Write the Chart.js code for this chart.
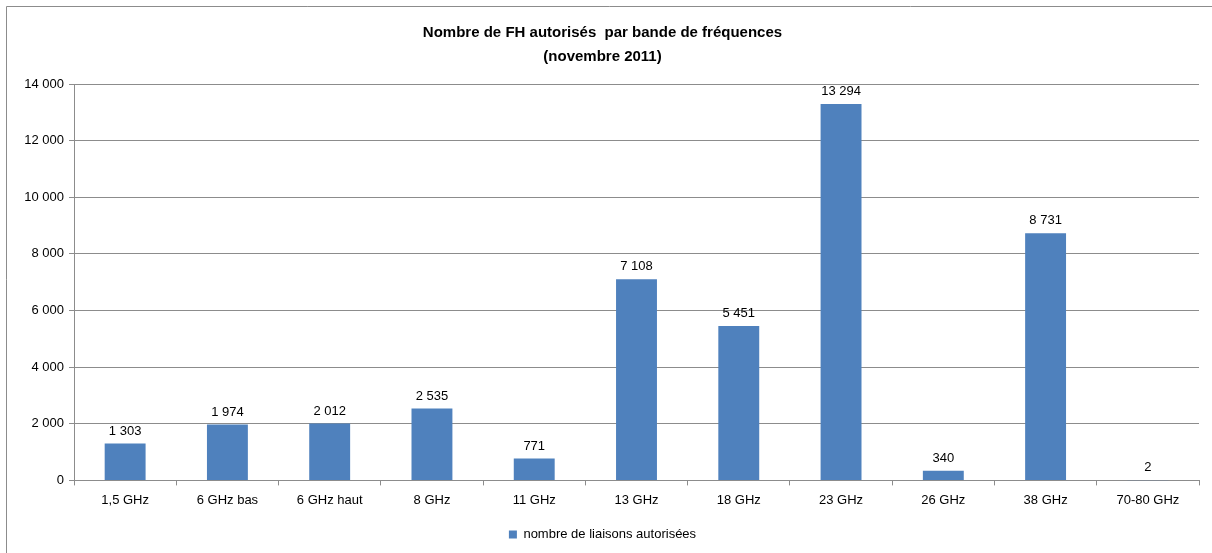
<!DOCTYPE html>
<html lang="fr">
<head>
    <meta charset="UTF-8">
    <title>Nombre de FH autorisés par bande de fréquences</title>
    <style>
        body {
            margin: 0;
            background: white;
        }

        .wrap {
            position: relative;
            width: 1212px;
            height: 553px;
        }
    </style>
</head>
<body>
    <div class="wrap">
        <canvas id="fhChart"></canvas>
    </div>

    <script src="https://cdn.jsdelivr.net/npm/chart.js"></script>

    <script>
        // Data
        const bandes = ['1,5 GHz', '6 GHz bas', '6 GHz haut', '8 GHz', '11 GHz', '13 GHz', '18 GHz', '23 GHz', '26 GHz', '38 GHz', '70-80 GHz'];
        const liaisons = [1303, 1974, 2012, 2535, 771, 7108, 5451, 13294, 340, 8731, 2];
        const yTicks = [0, 2000, 4000, 6000, 8000, 10000, 12000, 14000];

        const fontFamily = '"Liberation Sans", Arial, sans-serif';
        const barColor = '#4F81BD';
        const gridColor = '#8c8c8c';

        // thousands with a space, like "13 294"
        function fmt(n) {
            return String(n).replace(/\B(?=(\d{3})+(?!\d))/g, ' ');
        }

        // values written above each bar
        const valueLabels = {
            id: 'valueLabels',
            afterDatasetsDraw(chart) {
                const ctx = chart.ctx;
                ctx.save();
                ctx.font = '13px ' + fontFamily;
                ctx.fillStyle = '#000';
                ctx.textAlign = 'center';
                ctx.textBaseline = 'bottom';
                chart.getDatasetMeta(0).data.forEach((bar, i) => {
                    ctx.fillText(fmt(liaisons[i]), bar.x, bar.y - 6);
                });
                ctx.restore();
            }
        };

        // outer frame (top and left edges are visible in the picture)
        const frame = {
            id: 'frame',
            beforeDraw(chart) {
                const ctx = chart.ctx;
                ctx.save();
                ctx.strokeStyle = '#8c8c8c';
                ctx.lineWidth = 1;
                ctx.beginPath();
                ctx.moveTo(6.5, chart.height);
                ctx.lineTo(6.5, 6.5);
                ctx.lineTo(chart.width, 6.5);
                ctx.stroke();
                ctx.restore();
            }
        };

        const ctx = document.getElementById('fhChart').getContext('2d');
        new Chart(ctx, {
            type: 'bar',
            data: {
                labels: bandes,
                datasets: [{
                    label: 'nombre de liaisons autorisées',
                    data: liaisons,
                    backgroundColor: barColor,
                    borderWidth: 0,
                    barPercentage: 0.4,
                    categoryPercentage: 1
                }]
            },
            options: {
                responsive: true,
                maintainAspectRatio: false,
                animation: false,
                layout: {
                    padding: { left: 6, right: 13, top: 4, bottom: 2 }
                },
                plugins: {
                    title: {
                        display: true,
                        text: ['Nombre de FH autorisés  par bande de fréquences', '(novembre 2011)'],
                        color: '#000',
                        font: { family: fontFamily, size: 15, weight: 'bold', lineHeight: 1.6 },
                        padding: { top: 17, bottom: 15 }
                    },
                    legend: {
                        position: 'bottom',
                        labels: {
                            color: '#000',
                            font: { family: fontFamily, size: 13 },
                            boxWidth: 8,
                            boxHeight: 8,
                            padding: 13
                        }
                    },
                    tooltip: { enabled: false }
                },
                scales: {
                    x: {
                        grid: {
                            offset: true,
                            drawOnChartArea: false,
                            color: gridColor,
                            tickLength: 5
                        },
                        border: { color: gridColor },
                        ticks: {
                            color: '#000',
                            font: { family: fontFamily, size: 13 },
                            padding: 7,
                            maxRotation: 0
                        }
                    },
                    y: {
                        min: 0,
                        max: 14000,
                        afterBuildTicks(scale) {
                            scale.ticks = yTicks.map(v => ({ value: v }));
                        },
                        afterFit(scale) {
                            scale.width = 68;
                        },
                        grid: {
                            color: gridColor,
                            tickLength: 5
                        },
                        border: { color: gridColor },
                        ticks: {
                            color: '#000',
                            font: { family: fontFamily, size: 13 },
                            padding: 5,
                            callback: v => fmt(v)
                        }
                    }
                }
            },
            plugins: [valueLabels, frame]
        });
    </script>
</body>
</html>
